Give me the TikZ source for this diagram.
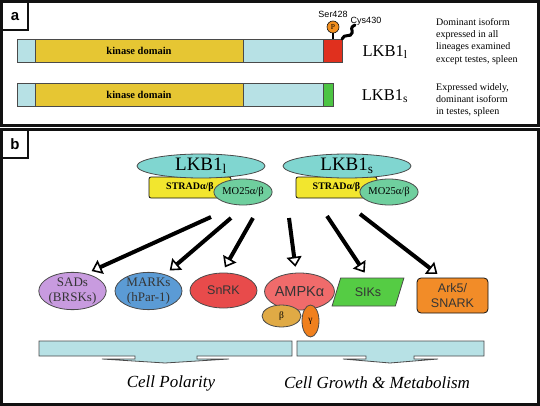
\documentclass[tikz,border=0pt]{standalone}
\usepackage{fontspec}
\setmainfont{Liberation Serif}
\setsansfont{Liberation Sans}
\usetikzlibrary{arrows.meta,positioning,shapes.geometric}
\usepackage{xcolor}
\definecolor{Ink}{HTML}{111111}
\definecolor{Edge}{HTML}{4A4A4A}
\definecolor{Pale}{HTML}{B7E1E5}
\definecolor{Kinase}{HTML}{E6C633}
\definecolor{TailRed}{HTML}{E0301E}
\definecolor{TailGreen}{HTML}{4CC443}
\definecolor{Lkb}{HTML}{80D6D0}
\definecolor{Strad}{HTML}{F2E62E}
\definecolor{Mo}{HTML}{6FCF9E}
\definecolor{Sad}{HTML}{C89BDF}
\definecolor{Mark}{HTML}{5B9BD5}
\definecolor{Snrk}{HTML}{E84B4B}
\definecolor{Ampk}{HTML}{F06B6B}
\definecolor{Beta}{HTML}{E0AA45}
\definecolor{Gamma}{HTML}{F0801E}
\definecolor{Sik}{HTML}{55CC44}
\definecolor{Ark}{HTML}{F28C28}
\definecolor{Phos}{HTML}{F29020}

\begin{document}
\begin{tikzpicture}[x=1pt,y=-1pt,
    panel/.style={draw=Ink,line width=3pt},
    tag/.style={draw=Ink,line width=1.5pt,minimum width=25.5pt,minimum height=28pt,inner sep=0pt,anchor=north west,font=\sffamily\bfseries\fontsize{15}{15}\selectfont},
    seg/.style={draw=Edge,line width=0.8pt,minimum height=23pt,inner sep=0pt,outer sep=0pt,font=\bfseries\fontsize{10.5}{12}\selectfont},
    iso/.style={font=\fontsize{16.5}{18}\selectfont,inner sep=0pt},
    note/.style={align=left,anchor=north west,inner sep=0pt,font=\fontsize{10}{12.3}\selectfont},
    cplx/.style={ellipse,draw=Edge,line width=0.8pt,fill=Lkb,minimum width=128pt,minimum height=24pt,inner sep=0pt,font=\fontsize{19}{20}\selectfont},
    strad/.style={draw=Ink,line width=0.8pt,fill=Strad,rounded corners=2pt,minimum width=82pt,minimum height=21pt,inner sep=0pt,font=\bfseries\fontsize{10}{12}\selectfont},
    mo/.style={ellipse,draw=Edge,line width=0.8pt,fill=Mo,minimum width=45pt,minimum height=26pt,inner sep=0pt,font=\fontsize{10.5}{12}\selectfont},
    target/.style={ellipse,draw=Edge,line width=0.8pt,minimum width=67pt,minimum height=36pt,inner sep=0pt,align=center,text=Ink!85},
    serifname/.style={font=\fontsize{13}{15}\selectfont},
    sansname/.style={font=\sffamily\fontsize{12.5}{14.5}\selectfont},
    sub/.style={ellipse,draw=Edge,line width=0.8pt,inner sep=0pt,font=\fontsize{9.5}{9.5}\selectfont},
    arrow/.style={-{Triangle[open,length=10pt,width=15pt,line width=1.6pt]},line width=4pt,shorten >=6pt},
    broad/.style={draw=Edge,line width=0.8pt,fill=Pale},
    result/.style={font=\itshape\fontsize{17}{20}\selectfont,inner sep=0pt}
  ]
    \useasboundingbox (0,0) rectangle (540,406);
    % panel a
    \draw[panel] (1.5,1.5) rectangle (538.5,126);
    \node[tag] (taga) at (1.5,1.5) {a};
    \node[seg,fill=Pale,minimum width=18pt] (nl) at (26,50.5) {};
    \node[seg,fill=Kinase,minimum width=208pt,right=0pt of nl] (kinl) {kinase domain};
    \node[seg,fill=Pale,minimum width=80pt,right=0pt of kinl] (pl) {};
    \node[seg,fill=TailRed,minimum width=19pt,right=0pt of pl] (tl) {};
    \node[seg,fill=Pale,minimum width=18pt,below=21pt of nl] (ns) {};
    \node[seg,fill=Kinase,minimum width=208pt,right=0pt of ns] (kins) {kinase domain};
    \node[seg,fill=Pale,minimum width=80pt,right=0pt of kins] (ps) {};
    \node[seg,fill=TailGreen,minimum width=10pt,right=0pt of ps] (ts) {};
    \node[circle,draw=Ink,line width=0.6pt,fill=Phos,minimum size=12pt,inner sep=0pt,font=\fontsize{7.5}{7.5}\selectfont] (phos) at (333,27) {P};
    \draw[line width=1.4pt] (phos) -- (phos |- tl.north);
    \node[above=0pt of phos,font=\sffamily\fontsize{9}{9}\selectfont] (ser) {Ser428};
    \node[font=\sffamily\fontsize{9}{9}\selectfont] (cys) at (366,21) {Cys430};
    \coordinate (cysend) at (355,25);
    \draw[line width=3pt,line cap=round] (tl.north east) .. controls (344,33) and (351,38) .. (352,33) .. controls (353,29) and (349,28) .. (cysend);
    \node[iso] (namel) at (385,52) {LKB1\textsubscript{l}};
    \node[iso] (names) at (385,96) {LKB1\textsubscript{s}};
    \node[note] (notel) at (436,18) {Dominant isoform\\expressed in all\\lineages examined\\except testes, spleen};
    \node[note] (notes) at (436,83) {Expressed widely,\\dominant isoform\\in testes, spleen};
    % panel b
    \draw[panel] (1.5,129.5) rectangle (538.5,404.5);
    \node[tag] (tagb) at (1.5,129.5) {b};
    \node[strad] (stradl) at (190,187.5) {STRADα/β};
    \node[cplx] (lkbl) at (201,166) {LKB1\textsubscript{l}};
    \node[mo] (mol) at (243,192) {MO25α/β};
    \node[strad,minimum width=81pt] (strads) at (336.5,187.5) {STRADα/β};
    \node[cplx] (lkbs) at (347,166) {LKB1\textsubscript{s}};
    \node[mo] (mos) at (389,192) {MO25α/β};
    \node[target,serifname,fill=Sad] (sads) at (72.5,291) {SADs\\(BRSKs)};
    \node[target,serifname,fill=Mark] (marks) at (148.5,291) {MARKs\\(hPar-1)};
    \node[target,sansname,fill=Snrk,minimum height=35pt] (snrk) at (223.5,290.5) {SnRK};
    \node[target,sansname,fill=Ampk,minimum height=37pt,font=\sffamily\fontsize{14.5}{16}\selectfont] (ampk) at (299.5,291.5) {AMPKα};
    \node[sub,fill=Beta,minimum width=39pt,minimum height=22pt] (beta) at (281.5,316) {β};
    \node[sub,fill=Gamma,minimum width=17pt,minimum height=32pt] (gamma) at (310.5,321) {γ};
    \node[trapezium,trapezium left angle=65,trapezium right angle=115,trapezium stretches=true,draw=Edge,line width=0.8pt,fill=Sik,minimum width=72pt,minimum height=28pt,inner sep=0pt,sansname,text=Ink!85] (siks) at (368,292) {SIKs};
    \node[draw=Ink,line width=0.8pt,fill=Ark,rounded corners=4pt,minimum width=71pt,minimum height=35pt,inner sep=0pt,align=center,sansname,text=Ink!85] (ark) at (452.5,295.5) {Ark5/\\SNARK};
    \coordinate (t1) at (211,217);
    \coordinate (t2) at (231,218);
    \coordinate (t3) at (253,218);
    \coordinate (t4) at (289,218);
    \coordinate (t5) at (327,216);
    \coordinate (t6) at (360,214);
    \draw[arrow] (t1) -- (sads.52);
    \draw[arrow] (t2) -- (marks.45);
    \draw[arrow] (t3) -- (snrk.95);
    \draw[arrow] (t4) -- (ampk.100);
    \draw[arrow] (t5) -- (siks.north);
    \draw[arrow] (t6) -- (ark.120);
    % broad arrows
    \draw[broad] (39,341) -- (292,341) -- (292,356) -- (197,356) -- (197,359) -- (229,359) -- (165,363) -- (102,359) -- (135,359) -- (135,356) -- (39,356) -- cycle;
    \draw[broad] (297,341) -- (484,341) -- (484,356) -- (414,356) -- (414,359) -- (438,359) -- (390,363) -- (343,359) -- (366,359) -- (366,356) -- (297,356) -- cycle;
    \node[result] (polar) at (171,383) {Cell Polarity};
    \node[result] (growth) at (377,383) {Cell Growth \& Metabolism};
\end{tikzpicture}
\end{document}
